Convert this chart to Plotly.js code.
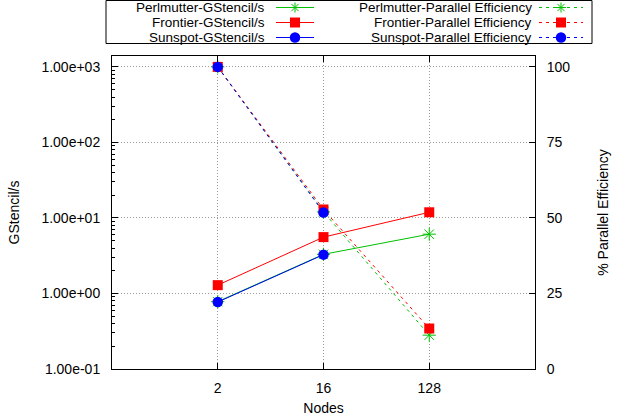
<!DOCTYPE html>
<html>
<head>
<meta charset="utf-8">
<script src="https://cdn.plot.ly/plotly-3.0.1.min.js"></script>
<style>html,body{margin:0;padding:0;background:#fff;}#chart{width:619px;height:419px;}</style>
</head>
<body>
<div id="chart"></div>
<script>
// ---- data ----
const nodes = [2, 16, 128];
const nodeLabels = ['2', '16', '128'];
const sunspotNodes = [2, 16];
const perlmutterGS = [0.78, 3.3, 6.1];
const frontierGS = [1.29, 5.58, 11.9];
const sunspotGS = [0.77, 3.27];
const perlmutterEff = [100, 52, 11.2];
const frontierEff = [100, 52.8, 13.4];
const sunspotEff = [100, 51.8];
const gsTickVals = [0.1, 1, 10, 100, 1000];
const gsTickText = ['1.00e-01', '1.00e+00', '1.00e+01', '1.00e+02', '1.00e+03'];
const effTickVals = [0, 25, 50, 75, 100];
const seriesNames = ['Perlmutter', 'Frontier', 'Sunspot'];

// ---- style ----
const GREEN = '#00c000', RED = '#ff0000', BLUE = '#0000ff';
const FONT = 'Liberation Sans, Arial, Helvetica, sans-serif';
const W = 619, H = 419, ML = 112, MR = 84, MT = 56, MB = 50;
const PW = W - ML - MR, PH = H - MT - MB;
const px2x = x => (x - ML) / PW;
const px2y = y => (H - MB - y) / PH;
const DASH = '3px,4px';

function mk(name, x, y, color, symbol, size, axis, dash) {
  const isStar = symbol === 'asterisk-open';
  return {
    type: 'scatter', mode: 'lines+markers', name: name, x: x, y: y,
    yaxis: axis, showlegend: false, cliponaxis: false,
    line: {color: color, width: 1, dash: dash || 'solid'},
    marker: {symbol: symbol, size: size, color: color,
             line: {color: color, width: isStar ? 1 : 0}}
  };
}

const traces = [
  mk('Perlmutter-GStencil/s', nodes, perlmutterGS, GREEN, 'asterisk-open', 11, 'y'),
  mk('Frontier-GStencil/s', nodes, frontierGS, RED, 'square', 10, 'y'),
  mk('Sunspot-GStencil/s', sunspotNodes, sunspotGS, BLUE, 'circle', 10.5, 'y'),
  mk('Perlmutter-Parallel Efficiency', nodes, perlmutterEff, GREEN, 'asterisk-open', 11, 'y2', DASH),
  mk('Frontier-Parallel Efficiency', nodes, frontierEff, RED, 'square', 10, 'y2', DASH),
  mk('Sunspot-Parallel Efficiency', sunspotNodes, sunspotEff, BLUE, 'circle', 10.5, 'y2', DASH)
];

// ---- custom gnuplot-style legend ----
const shapes = [];
const annotations = [];
shapes.push({type: 'rect', xref: 'paper', yref: 'paper',
  x0: px2x(106), x1: px2x(592), y0: px2y(43.5), y1: px2y(0.5),
  line: {color: '#000', width: 1}, fillcolor: 'rgba(0,0,0,0)'});
const rows = [7.5, 22.5, 37.5];
const colors = [GREEN, RED, BLUE];
const cols = [
  {textRight: 266, l0: 276, l1: 314, m: 295, suffix: '-GStencil/s', dash: 'solid'},
  {textRight: 533, l0: 539, l1: 583, m: 561, suffix: '-Parallel Efficiency', dash: DASH}
];
function markerShape(kind, cx, cy, color) {
  const base = {xref: 'paper', yref: 'paper', xsizemode: 'pixel', ysizemode: 'pixel',
    xanchor: px2x(cx), yanchor: px2y(cy)};
  if (kind === 0) {
    return Object.assign(base, {type: 'path',
      path: 'M-5,0L5,0M0,-5L0,5M-3.6,-3.6L3.6,3.6M-3.6,3.6L3.6,-3.6',
      line: {color: color, width: 1}});
  } else if (kind === 1) {
    return Object.assign(base, {type: 'rect', x0: -5, x1: 5, y0: -5, y1: 5,
      fillcolor: color, line: {width: 0}});
  }
  return Object.assign(base, {type: 'circle', x0: -5.25, x1: 5.25, y0: -5.25, y1: 5.25,
    fillcolor: color, line: {width: 0}});
}
cols.forEach(c => {
  rows.forEach((ry, i) => {
    annotations.push({xref: 'paper', yref: 'paper', x: px2x(c.textRight), y: px2y(ry),
      xanchor: 'right', yanchor: 'middle', showarrow: false, borderpad: 0,
      text: seriesNames[i] + c.suffix, font: {family: FONT, size: 13.5, color: '#000'}});
    shapes.push({type: 'line', xref: 'paper', yref: 'paper',
      x0: px2x(c.l0), x1: px2x(c.l1), y0: px2y(ry), y1: px2y(ry),
      line: {color: colors[i], width: 1, dash: c.dash}});
    shapes.push(markerShape(i, c.m, ry, colors[i]));
  });
});

const gridStyle = {showgrid: true, gridcolor: '#9a9a9a', griddash: '1px,2px', gridwidth: 1};

const layout = {
  width: W, height: H,
  margin: {l: ML, r: MR, t: MT, b: MB, pad: 0},
  paper_bgcolor: '#fff', plot_bgcolor: '#fff',
  font: {family: FONT, size: 14, color: '#000'},
  showlegend: false,
  xaxis: Object.assign({
    type: 'log', range: [Math.log10(0.25), Math.log10(1024)],
    tickmode: 'array', tickvals: nodes, ticktext: nodeLabels,
    ticks: 'inside', ticklen: 6, tickcolor: '#000', tickwidth: 1,
    showline: true, linecolor: '#000', linewidth: 1, mirror: 'ticks',
    zeroline: false, ticklabelstandoff: 6,
    title: {text: 'Nodes', font: {family: FONT, size: 14}, standoff: 8}
  }, gridStyle),
  yaxis: Object.assign({
    type: 'log', range: [-1, 3.145],
    tickmode: 'array', tickvals: gsTickVals, ticktext: gsTickText,
    ticks: 'inside', ticklen: 6, tickcolor: '#000', tickwidth: 1,
    minor: {ticks: 'inside', ticklen: 3, tickcolor: '#000', dtick: 'D1', showgrid: false},
    showline: true, linecolor: '#000', linewidth: 1, mirror: false,
    zeroline: false, ticklabelstandoff: 8,
    title: {text: 'GStencil/s', font: {family: FONT, size: 14}, standoff: 18}
  }, gridStyle),
  yaxis2: {
    overlaying: 'y', side: 'right', anchor: 'x',
    range: [0, 103.6], tickmode: 'array', tickvals: effTickVals,
    ticks: 'inside', ticklen: 6, tickcolor: '#000', tickwidth: 1,
    showline: true, linecolor: '#000', linewidth: 1,
    showgrid: false, zeroline: false, ticklabelstandoff: 8,
    title: {text: '% Parallel Efficiency', font: {family: FONT, size: 14}, standoff: 28}
  },
  shapes: shapes,
  annotations: annotations
};

Plotly.newPlot('chart', traces, layout, {staticPlot: true, displayModeBar: false});
</script>
</body>
</html>
